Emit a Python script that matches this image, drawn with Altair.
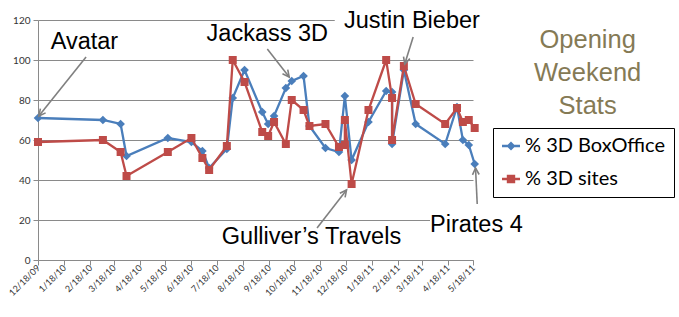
import math
from datetime import datetime
import altair as alt
import pandas as pd

# ---------------- data ----------------
release_dates = [
    "2009-12-18", "2010-03-05", "2010-03-26", "2010-04-02", "2010-05-21",
    "2010-06-18", "2010-07-01", "2010-07-09", "2010-07-30", "2010-08-06",
    "2010-08-20", "2010-09-10", "2010-09-17", "2010-09-24", "2010-10-08",
    "2010-10-15", "2010-10-29", "2010-11-05", "2010-11-24", "2010-12-10",
    "2010-12-17", "2010-12-17", "2010-12-25", "2011-01-14", "2011-02-04",
    "2011-02-11", "2011-02-11", "2011-02-25", "2011-03-11", "2011-04-15",
    "2011-04-29", "2011-05-06", "2011-05-13", "2011-05-20",
]
box_office_3d = [
    71, 70, 68, 52, 61,
    59, 54.5, 46, 55.5, 81,
    95, 74, 68, 72, 86,
    89.5, 92, 67, 56, 54,
    None, 82, 50, 69, 84.5,
    84, 58, 95, 68, 58,
    76.5, 60, 57.5, 48,
]
sites_3d = [
    59, 60, 54, 42, 54,
    61, 51, 45, 57, 100,
    89, 64, 62, 69, 58,
    80, 75, 67, 68, 56.5,
    57.5, 70, 38, 75, 100,
    81, 60, 97, 78, 68,
    76, 69, 70, 66,
]
series_names = ["% 3D BoxOffice", "% 3D sites"]
series_colors = ["#4a7ebb", "#be4b48"]
y_ticks = [0, 20, 40, 60, 80, 100, 120]
x_tick_months = [(2009, 12)] + [(2010, m) for m in range(1, 13)] + [(2011, m) for m in range(1, 6)]

# annotations (text position: left / baseline, in data space)
note_labels = ["Avatar", "Jackass 3D", "Justin Bieber", "Gulliver\u2019s Travels", "Pirates 4"]
note_dates = ["2010-01-02", "2010-07-06", "2010-12-16", "2010-07-24", "2011-03-28"]
note_values = [105.5, 109.5, 116, 8, 14]
arrow_from_dates = ["2010-02-13", "2010-09-16", "2011-03-08", "2010-11-14", "2011-05-23"]
arrow_from_values = [101.5, 105.5, 111.5, 16, 28]
arrow_to_dates = ["2009-12-19", "2010-10-12", "2011-02-26", "2010-12-19", "2011-05-21"]
arrow_to_values = [72, 91.5, 98, 35, 46]

# side title (centre, baseline in data space)
title_lines = ["Opening", "Weekend", "Stats"]
title_date = "2011-10-01"
title_values = [106, 89.5, 73]

# ---------------- layout ----------------
W, H = 435, 240
X0 = datetime(2009, 12, 18)
X1 = datetime(2011, 5, 18)
SPAN = (X1 - X0).days


def to_px(d, v):
    dd = datetime.fromisoformat(d)
    return (dd - X0).days * W / SPAN, (120 - v) * H / 120


angles = []
for fd, fv, td, tv in zip(arrow_from_dates, arrow_from_values, arrow_to_dates, arrow_to_values):
    x1, y1 = to_px(fd, fv)
    x2, y2 = to_px(td, tv)
    angles.append(math.degrees(math.atan2(x2 - x1, -(y2 - y1))) % 360)

rows = []
for i, d in enumerate(release_dates):
    for name, vals in zip(series_names, [box_office_3d, sites_3d]):
        if vals[i] is not None:
            rows.append({"date": d + "T00:00:00", "value": vals[i], "series": name, "idx": i})
df = pd.DataFrame(rows)

notes = pd.DataFrame({
    "label": note_labels,
    "date": [d + "T00:00:00" for d in note_dates],
    "value": note_values,
})
title_df = pd.DataFrame({
    "label": title_lines,
    "date": [title_date + "T00:00:00"] * len(title_lines),
    "value": title_values,
})
arrows = pd.DataFrame({
    "date": [d + "T00:00:00" for d in arrow_from_dates],
    "value": arrow_from_values,
    "d2": [d + "T00:00:00" for d in arrow_to_dates],
    "v2": arrow_to_values,
    "angle": angles,
})
heads = pd.DataFrame({
    "date": [d + "T00:00:00" for d in arrow_to_dates],
    "value": arrow_to_values,
    "angle": angles,
})
boxes = pd.DataFrame({
    "date": ["2010-12-05T00:00:00", "2011-03-28T00:00:00"],
    "d2": ["2011-05-22T00:00:00", "2011-05-22T00:00:00"],
    "value": [108, 7],
    "v2": [123, 23],
})

x_scale = alt.Scale(domain=[alt.DateTime(year=2009, month=12, date=18),
                            alt.DateTime(year=2011, month=5, date=18)])
y_scale = alt.Scale(domain=[0, 120])

x_axis = alt.Axis(
    values=[alt.DateTime(year=y, month=m, date=18) for y, m in x_tick_months],
    format="%-m/%-d/%y", labelAngle=315, labelAlign="right", labelBaseline="middle",
    labelFont="Lato", labelFontSize=9, labelColor="#333333", labelPadding=1,
    labelFlush=False, labelOverlap=False, tickSize=5, tickColor="#8a8a8a",
    domainColor="#8a8a8a", grid=False, title=None,
)
y_axis = alt.Axis(
    values=y_ticks, labelFont="Lato", labelFontSize=10, labelColor="#333333",
    labelPadding=3, tickSize=5, tickColor="#8a8a8a", domainColor="#8a8a8a",
    grid=True, gridColor="#8a8a8a", gridWidth=1, title=None,
)
X = alt.X("date:T", scale=x_scale, axis=x_axis)
Y = alt.Y("value:Q", scale=y_scale, axis=y_axis)

base = alt.Chart(df)


def series_layers(name, color, shape, size):
    sub = base.transform_filter(alt.datum.series == name)
    line = sub.mark_line(color=color, strokeWidth=2.3).encode(x=X, y=Y, order="idx:Q")
    pts = sub.mark_point(filled=True, color=color, shape=shape, size=size, opacity=1).encode(x=X, y=Y)
    return [line, pts]


layers = series_layers(series_names[0], series_colors[0], "diamond", 75) + \
    series_layers(series_names[1], series_colors[1], "square", 64)

legend_paths = [
    "M-0.9,-0.12H0.9V0.12H-0.9Z M0,-0.45L0.45,0L0,0.45L-0.45,0Z",
    "M-0.9,-0.12H0.9V0.12H-0.9Z M-0.42,-0.42H0.42V0.42H-0.42Z",
]
leg = dict(orient="none", legendX=455, legendY=108, title=None, labelFont="Lato",
           labelFontSize=20, labelColor="black", symbolSize=400, rowPadding=13,
           padding=8, strokeColor="black", fillColor="white", labelOffset=4,
           symbolStrokeWidth=0)
legend_layer = base.mark_point(filled=True, opacity=1).encode(
    color=alt.Color("series:N", scale=alt.Scale(domain=series_names, range=series_colors),
                    legend=alt.Legend(**leg)),
    shape=alt.Shape("series:N", scale=alt.Scale(domain=series_names, range=legend_paths),
                    legend=alt.Legend(**leg)),
).transform_filter("false")

box_layer = alt.Chart(boxes).mark_rect(color="white", opacity=1).encode(
    x=X, x2="d2:T", y=Y, y2="v2:Q",
)

text_layer = alt.Chart(notes).mark_text(
    align="left", baseline="alphabetic", font="Liberation Sans", fontSize=23.5, color="black"
).encode(x=X, y=Y, text="label:N")

title_layer = alt.Chart(title_df).mark_text(
    align="center", baseline="alphabetic", font="Liberation Sans", fontSize=25.5, color="#857a55"
).encode(x=X, y=Y, text="label:N")

arrow_line = alt.Chart(arrows).mark_rule(color="#808080", strokeWidth=1.6).encode(
    x=X, x2="d2:T", y=Y, y2="v2:Q",
)
arrow_head = alt.Chart(heads).mark_point(
    shape="M-0.45,0.9L0,0L0.45,0.9", filled=False, color="#808080",
    strokeWidth=1.6, size=220, opacity=1,
).encode(x=X, y=Y, angle=alt.Angle("angle:Q", scale=None))

chart = alt.layer(
    box_layer, *layers, legend_layer, arrow_line, arrow_head, text_layer, title_layer
).properties(
    width=W, height=H,
    autosize=alt.AutoSizeParams(type="none"),
    padding={"left": 38, "top": 20, "right": 206, "bottom": 57},
    background="white",
).configure_view(stroke=None)

chart.save("out.html", embed_options={"renderer": "svg", "actions": False})
